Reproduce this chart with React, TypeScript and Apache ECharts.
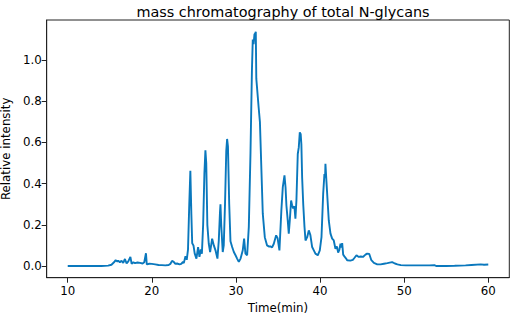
import React, { useEffect, useRef } from "react";
import * as echarts from "echarts";

const titleText = "mass chromatography of total N-glycans";
const xName = "Time(min)";
const yName = "Relative intensity";
const xTicks = [10, 20, 30, 40, 50, 60];
const yTicks = [0, 0.2, 0.4, 0.6, 0.8, 1.0];

const times = [
  10.0, 11.0, 12.0, 13.0, 14.0, 14.8, 15.2, 15.5, 15.7, 15.9, 16.0, 16.2, 16.4, 16.6, 16.8, 17.0, 17.2, 17.45, 17.6, 17.8,
  18.0, 18.3, 18.6, 18.9, 19.1, 19.3, 19.4, 19.7, 20.0, 20.4, 20.8, 21.2, 21.6, 22.0, 22.2, 22.4, 22.6, 22.8, 23.0, 23.3,
  23.5, 23.7, 23.8, 24.0, 24.15, 24.3, 24.45, 24.58, 24.7, 24.8, 24.95, 25.1, 25.3, 25.5, 25.66, 25.82, 25.95, 26.1, 26.25, 26.37,
  26.47, 26.6, 26.77, 26.93, 27.05, 27.17, 27.37, 27.57, 27.8, 27.96, 28.1, 28.16, 28.25, 28.43, 28.55, 28.7, 28.85, 28.95, 29.05, 29.2,
  29.35, 29.55, 29.75, 29.95, 30.14, 30.34, 30.55, 30.81, 30.97, 31.13, 31.33, 31.53, 31.73, 31.9, 32.0, 32.1, 32.2, 32.3, 32.36, 32.42,
  32.5, 32.7, 32.85, 33.03, 33.19, 33.43, 33.7, 33.9, 34.1, 34.3, 34.5, 34.78, 34.95, 35.17, 35.4, 35.57, 35.77, 35.9, 36.0, 36.16,
  36.28, 36.4, 36.56, 36.68, 36.8, 36.95, 37.07, 37.19, 37.35, 37.47, 37.59, 37.7, 37.78, 37.87, 38.0, 38.15, 38.27, 38.47, 38.66, 38.85,
  39.06, 39.26, 39.45, 39.73, 39.97, 40.17, 40.37, 40.52, 40.6, 40.64, 40.76, 40.92, 41.04, 41.24, 41.44, 41.63, 41.83, 42.0, 42.15, 42.3,
  42.43, 42.55, 42.63, 42.75, 42.94, 43.1, 43.22, 43.6, 43.9, 44.1, 44.33, 44.6, 44.85, 45.1, 45.4, 45.6, 45.85, 46.1, 46.4, 46.8,
  47.2, 47.6, 48.0, 48.57, 48.9, 49.2, 49.6, 50.2, 51.0, 52.0, 53.0, 53.6, 53.8, 55.0, 56.0, 57.3, 58.0, 59.1, 59.5, 60.0,
];

const intensity = [
  0.0, 0.0, 0.0, 0.0, 0.0, 0.002, 0.006, 0.018, 0.028, 0.022, 0.026, 0.018, 0.025, 0.015, 0.034, 0.012, 0.022, 0.044, 0.01, 0.018,
  0.014, 0.017, 0.015, 0.012, 0.018, 0.062, 0.008, 0.011, 0.01, 0.008, 0.005, 0.004, 0.003, 0.005, 0.01, 0.025, 0.02, 0.01, 0.012, 0.008,
  0.01, 0.02, 0.014, 0.048, 0.03, 0.08, 0.3, 0.463, 0.25, 0.11, 0.1, 0.06, 0.036, 0.092, 0.044, 0.08, 0.06, 0.2, 0.45, 0.562,
  0.5, 0.2, 0.108, 0.068, 0.1, 0.133, 0.1, 0.076, 0.036, 0.124, 0.26, 0.3, 0.2, 0.068, 0.1, 0.3, 0.56, 0.617, 0.58, 0.3,
  0.12, 0.092, 0.068, 0.052, 0.036, 0.02, 0.036, 0.076, 0.133, 0.06, 0.052, 0.19, 0.55, 0.95, 1.1, 1.077, 1.125, 1.13, 1.138, 0.91,
  0.87, 0.77, 0.7, 0.463, 0.254, 0.14, 0.1, 0.095, 0.095, 0.09, 0.108, 0.149, 0.135, 0.076, 0.27, 0.383, 0.44, 0.38, 0.294, 0.22,
  0.157, 0.22, 0.318, 0.294, 0.28, 0.29, 0.23, 0.318, 0.544, 0.576, 0.649, 0.64, 0.59, 0.43, 0.3, 0.19, 0.124, 0.14, 0.173, 0.15,
  0.092, 0.076, 0.06, 0.052, 0.076, 0.14, 0.35, 0.447, 0.43, 0.496, 0.41, 0.3, 0.22, 0.157, 0.133, 0.124, 0.084, 0.095, 0.065, 0.08,
  0.108, 0.09, 0.111, 0.055, 0.044, 0.036, 0.028, 0.026, 0.03, 0.04, 0.052, 0.044, 0.046, 0.044, 0.055, 0.06, 0.058, 0.028, 0.015, 0.008,
  0.008, 0.011, 0.014, 0.019, 0.012, 0.008, 0.004, 0.003, 0.003, 0.003, 0.003, 0.004, 0.0, 0.0, 0.001, 0.003, 0.005, 0.008, 0.006, 0.007,
];

const FONT = "DejaVu Sans";

export default function App() {
  const ref = useRef<HTMLDivElement>(null);
  useEffect(() => {
    if (!ref.current) return;
    const chart = echarts.init(ref.current, null, { renderer: "svg" });
    const data = times.map((t, i) => [t, intensity[i]]);
    const yMax = Math.max(...intensity);
    const yMin = Math.min(...intensity);
    const pad = (yMax - yMin) * 0.05;
    chart.setOption({
      animation: false,
      backgroundColor: "#fff",
      title: {
        text: titleText,
        left: 278,
        top: 0,
        textAlign: "center",
        textStyle: { fontFamily: FONT, fontSize: 14.4, fontWeight: "normal", color: "#000" },
      },
      grid: {
        left: 46.7,
        right: 2.7,
        top: 20,
        bottom: 37.3,
        show: true,
        borderColor: "#222",
        borderWidth: 1,
        containLabel: false,
        outerBoundsMode: "none",
      },
      xAxis: {
        type: "value",
        min: 7.5,
        max: 62.5,
        name: xName,
        nameLocation: "middle",
        nameGap: 14.5,
        nameTextStyle: { fontFamily: FONT, fontSize: 11.8, color: "#000" },
        axisLine: { show: true, onZero: false, lineStyle: { color: "#222", width: 1 } },
        axisTick: { show: true, length: 5, customValues: xTicks, lineStyle: { color: "#222", width: 1 } },
        axisLabel: {
          customValues: xTicks,
          margin: 7,
          fontFamily: FONT,
          fontSize: 11.8,
          color: "#000",
          formatter: (v: number) => String(v),
        },
        splitLine: { show: false },
      },
      yAxis: {
        type: "value",
        min: yMin - pad,
        max: yMax + pad,
        name: yName,
        nameLocation: "middle",
        nameGap: 30,
        nameRotate: 90,
        nameTextStyle: { fontFamily: FONT, fontSize: 11.8, color: "#000" },
        axisLine: { show: true, onZero: false, lineStyle: { color: "#222", width: 1 } },
        axisTick: { show: true, length: 5, customValues: yTicks, lineStyle: { color: "#222", width: 1 } },
        axisLabel: {
          customValues: yTicks,
          margin: 5,
          fontFamily: FONT,
          fontSize: 11.8,
          color: "#000",
          formatter: (v: number) => v.toFixed(1),
        },
        splitLine: { show: false },
      },
      series: [
        {
          type: "line",
          data,
          showSymbol: false,
          symbol: "none",
          lineStyle: { color: "#0a78bd", width: 1.9 },
          itemStyle: { color: "#0a78bd" },
        },
      ],
    });
    return () => chart.dispose();
  }, []);
  return (
    <div
      ref={ref}
      style={{ position: "absolute", left: 0, top: 0, width: 512, height: 315 }}
    />
  );
}
